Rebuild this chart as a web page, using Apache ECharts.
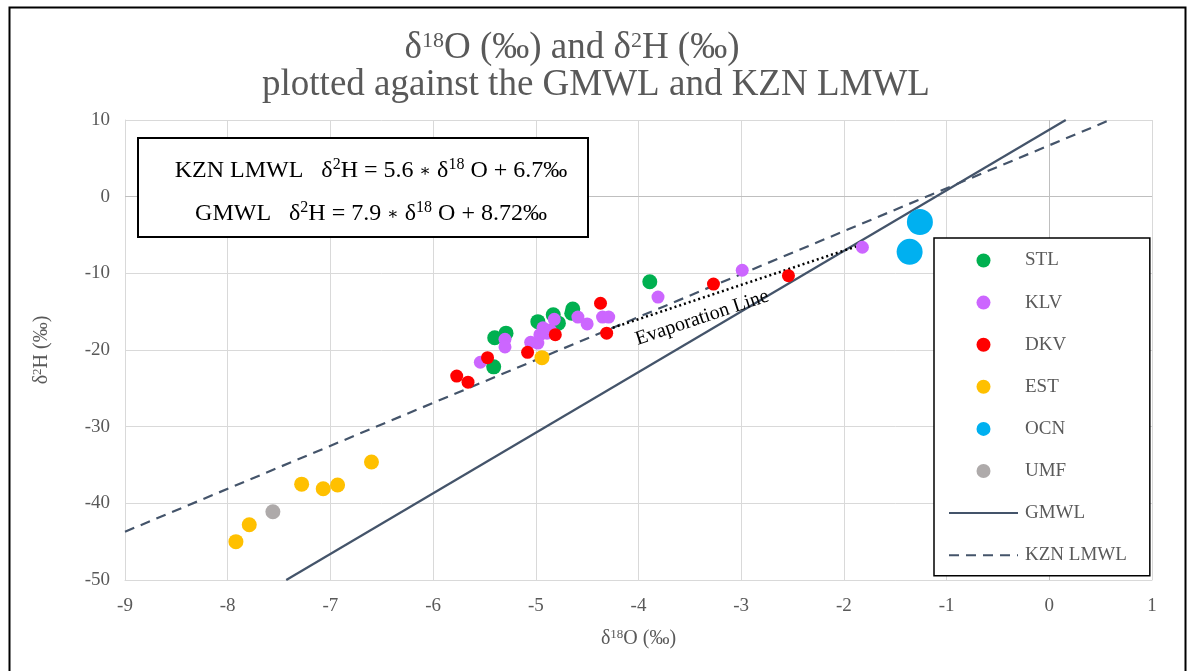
<!DOCTYPE html>
<html><head><meta charset="utf-8">
<script src="https://cdn.jsdelivr.net/npm/echarts@6/dist/echarts.min.js"></script>
<style>html,body{margin:0;padding:0;background:#fff}#c{width:1190px;height:671px}</style>
</head><body><div id="c"></div>
<script>
// ---- data (δ18O, δ2H) ----
const stlX = [-5.40, -5.29, -5.41, -4.98, -4.83, -4.78, -4.65, -4.64, -3.89];
const stlY = [-18.4, -17.8, -22.2, -16.3, -15.4, -16.5, -15.2, -14.65, -11.1];
const klvX = [-5.54, -5.30, -5.30, -5.05, -4.98, -4.96, -4.93, -4.89, -4.86, -4.82, -4.59, -4.50, -4.35, -4.29, -3.81, -2.99, -1.82];
const klvY = [-21.6, -18.6, -19.6, -19.0, -19.1, -18.0, -17.1, -17.8, -17.4, -16.0, -15.7, -16.6, -15.7, -15.7, -13.1, -9.6, -6.6];
const dkvX = [-5.77, -5.66, -5.47, -5.08, -4.81, -4.37, -4.31, -3.27, -2.54];
const dkvY = [-23.4, -24.2, -21.0, -20.3, -18.0, -13.9, -17.8, -11.4, -10.3];
const estX = [-4.94, -6.60, -7.28, -7.07, -6.93, -7.79, -7.92];
const estY = [-21.0, -34.6, -37.5, -38.1, -37.6, -42.8, -45.0];
const ocnX = [-1.26, -1.36];
const ocnY = [-3.3, -7.2];
const umfX = [-7.56];
const umfY = [-41.1];
// reference lines: end points
const gmwlX = [-7.43, 0.16];
const gmwlY = [-50, 10];
const lmwlX = [-9, 0.59];
const lmwlY = [-43.7, 10];
const evapX = [-4.25, -1.88];
const evapY = [-17.1, -6.5];
const evapLabelAt = [-3.38, -15.8];
const xRange = [-9, 1, 1];
const yRange = [-50, 10, 10];

const zip = (xs, ys) => xs.map((x, i) => [x, ys[i]]);
const FONT = '"Liberation Serif", "Times New Roman", serif';
const GREY = '#595959';
const LINE = '#44546a';

const chart = echarts.init(document.getElementById('c'), null, {renderer: 'canvas'});

function scatter(name, xs, ys, color, size) {
  return {
    name, type: 'scatter', data: zip(xs, ys), symbol: 'circle', symbolSize: size,
    itemStyle: {color, opacity: 1}, emphasis: {disabled: true}, z: 3
  };
}

const base = {fontSize: 37, fontFamily: FONT, color: GREY, fontWeight: 'normal', verticalAlign: 'bottom'};
const sup = {fontSize: 22, fontFamily: FONT, color: GREY, fontWeight: 'normal', verticalAlign: 'bottom', padding: [0, 0, 15, 0]};

const eqBase = {fontSize: 24, fontFamily: FONT, fill: '#000', verticalAlign: 'bottom'};
const eqSup = {fontSize: 16, fontFamily: FONT, fill: '#000', verticalAlign: 'bottom', padding: [0, 0, 10, 0]};
const eqAst = {fontSize: 17, fontFamily: '"DejaVu Serif", serif', fill: '#000', verticalAlign: 'bottom', padding: [0, 0, 3, 0]};

const option = {
  animation: false,
  backgroundColor: '#fff',
  title: [
    {text: '{b|δ}{s|18}{b|O (‰) and δ}{s|2}{b|H (‰)}', left: 567, top: 25, textAlign: 'center',
     textStyle: {fontWeight: 'normal', rich: {b: base, s: sup}}},
    {text: 'plotted against the GMWL and KZN LMWL', left: 591, top: 62, textAlign: 'center',
     textStyle: {fontSize: 37, fontFamily: FONT, color: GREY, fontWeight: 'normal'}}
  ],
  grid: {left: 125, right: 38, top: 120, bottom: 91, containLabel: false},
  xAxis: {
    type: 'value', min: xRange[0], max: xRange[1], interval: xRange[2],
    name: '{b|δ}{s|18}{b|O (‰)}', nameLocation: 'middle', nameGap: 48,
    nameTextStyle: {rich: {
      b: {fontSize: 20, fontFamily: FONT, color: GREY, verticalAlign: 'bottom'},
      s: {fontSize: 13, fontFamily: FONT, color: GREY, verticalAlign: 'bottom', padding: [0, 0, 8, 0]}}},
    axisLine: {show: true, onZero: false, lineStyle: {color: '#d9d9d9'}},
    axisTick: {show: false},
    axisLabel: {fontSize: 19, fontFamily: FONT, color: GREY, margin: 17},
    splitLine: {show: true, lineStyle: {color: '#d9d9d9', width: 1}}
  },
  yAxis: {
    type: 'value', min: yRange[0], max: yRange[1], interval: yRange[2],
    name: '{b|δ}{s|2}{b|H (‰)}', nameLocation: 'middle', nameGap: 73, nameRotate: 90,
    nameTextStyle: {rich: {
      b: {fontSize: 20, fontFamily: FONT, color: GREY, verticalAlign: 'bottom'},
      s: {fontSize: 13, fontFamily: FONT, color: GREY, verticalAlign: 'bottom', padding: [0, 0, 8, 0]}}},
    axisLine: {show: true, onZero: false, lineStyle: {color: '#d9d9d9'}},
    axisTick: {show: false},
    axisLabel: {fontSize: 19, fontFamily: FONT, color: GREY, margin: 15},
    splitLine: {show: true, lineStyle: {color: '#d9d9d9', width: 1}}
  },
  legend: {
    orient: 'vertical', left: 934, top: 238,
    padding: [13, 23, 11, 14],
    itemWidth: 69, itemHeight: 14, itemGap: 23.1,
    backgroundColor: '#fff', borderColor: '#000', borderWidth: 1.5,
    textStyle: {fontSize: 19, fontFamily: FONT, color: GREY, padding: [0, 0, 0, 2]},
    selectedMode: false,
    data: ['STL', 'KLV', 'DKV', 'EST', 'OCN', 'UMF',
      {name: 'GMWL', itemStyle: {opacity: 0, color: 'rgba(0,0,0,0)', borderWidth: 0}},
      {name: 'KZN LMWL', itemStyle: {opacity: 0, color: 'rgba(0,0,0,0)', borderWidth: 0}}]
  },
  series: [
    {
      name: 'GMWL', type: 'line', data: zip(gmwlX, gmwlY), symbol: 'none', showSymbol: false,
      lineStyle: {color: LINE, width: 2.2, type: 'solid'}, itemStyle: {color: LINE},
      emphasis: {disabled: true}, z: 2,
      markLine: {
        silent: true, symbol: 'none', label: {show: false},
        lineStyle: {color: '#bfbfbf', width: 1, type: 'solid'},
        data: [{xAxis: 0}, {yAxis: 0}], z: 1
      }
    },
    {
      name: 'KZN LMWL', type: 'line', data: zip(lmwlX, lmwlY), symbol: 'none', showSymbol: false,
      lineStyle: {color: LINE, width: 2.2, type: [10, 7]}, itemStyle: {color: LINE},
      emphasis: {disabled: true}, z: 2
    },
    {
      name: 'Evaporation Line', type: 'line', data: zip(evapX, evapY), symbol: 'none', showSymbol: false,
      lineStyle: {color: '#000', width: 2.5, type: [2, 3]},
      emphasis: {disabled: true}, z: 2
    },
    scatter('STL', stlX, stlY, '#00b050', 15),
    scatter('KLV', klvX, klvY, '#cc66ff', 13),
    scatter('DKV', dkvX, dkvY, '#ff0000', 13),
    scatter('EST', estX, estY, '#ffc000', 15),
    scatter('OCN', ocnX, ocnY, '#00b0f0', 26),
    scatter('UMF', umfX, umfY, '#aeaaaa', 15)
  ]
};
chart.setOption(option);

const lp = chart.convertToPixel({gridIndex: 0}, evapLabelAt);
chart.setOption({
  graphic: [
    {type: 'rect', left: 7, top: 5, z: 100, silent: true,
     shape: {width: 1176, height: 680}, style: {fill: 'none', stroke: '#000', lineWidth: 2}},
    {type: 'rect', left: 137, top: 137, z: 50, silent: true,
     shape: {width: 450, height: 99}, style: {fill: '#fff', stroke: '#000', lineWidth: 2}},
    {type: 'text', x: 371, y: 170, z: 51, silent: true,
     style: {text: '{b|KZN LMWL   δ}{s|2}{b|H = 5.6 }{a|∗}{b| δ}{s|18}{b| O + 6.7‰}',
       align: 'center', verticalAlign: 'middle', rich: {b: eqBase, s: eqSup, a: eqAst}}},
    {type: 'text', x: 371, y: 213, z: 51, silent: true,
     style: {text: '{b|GMWL   δ}{s|2}{b|H = 7.9 }{a|∗}{b| δ}{s|18}{b| O + 8.72‰}',
       align: 'center', verticalAlign: 'middle', rich: {b: eqBase, s: eqSup, a: eqAst}}},
    {type: 'text', x: lp[0], y: lp[1], rotation: 0.323, z: 51, silent: true,
     style: {text: 'Evaporation Line', align: 'center', verticalAlign: 'middle',
       fontSize: 20, fontFamily: FONT, fill: '#000'}}
  ]
});
</script>
</body></html>
